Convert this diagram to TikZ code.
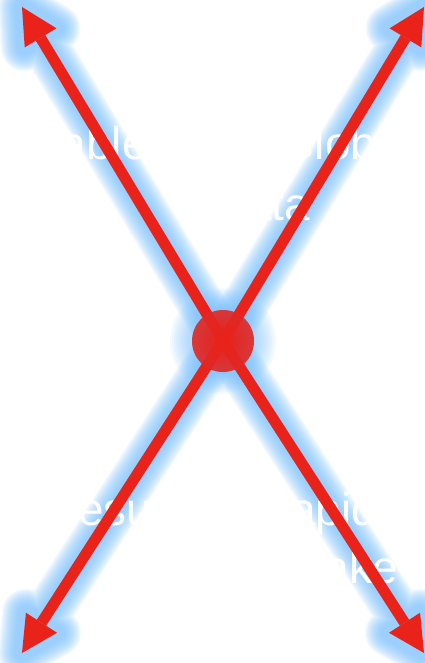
\documentclass[tikz,border=0pt]{standalone}
\usepackage{fontspec}
\setmainfont{Liberation Sans}
\usetikzlibrary{arrows.meta,calc,fadings}
\definecolor{SignalRed}{RGB}{233,35,26}
\definecolor{GlowBlue}{RGB}{120,190,252}
\definecolor{DeepGlow}{RGB}{70,140,240}
\tikzfading[name=dotfade,inner color=transparent!0,outer color=transparent!100]
\tikzset{
  glow/.style={draw=GlowBlue,line width=#1,line join=round,line cap=round,opacity=0.075},
  quadtext/.style={text=white,font=\fontsize{46}{58}\selectfont,anchor=base west,inner sep=0pt}
}

\begin{document}
\begin{tikzpicture}[x=1pt,y=-1pt]
  \useasboundingbox (0,0) rectangle (424,663);
  \coordinate (hub) at (223,341);
  \coordinate (tipNW) at (22,7);
  \coordinate (tipNE) at (424,7);
  \coordinate (tipSW) at (22,653);
  \coordinate (tipSE) at (424,653);
  % arrow heads
  \foreach \d in {NW,NE,SW,SE}{
    \coordinate (base\d) at ($(tip\d)!36pt!(hub)$);
    \coordinate (wingA\d) at ($(base\d)!18.5pt!90:(tip\d)$);
    \coordinate (wingB\d) at ($(base\d)!18.5pt!-90:(tip\d)$);
  }
  % soft blue halo
  \foreach \d in {NW,NE,SW,SE}{
    \foreach \w in {48,46,...,16}
      \draw[glow=\w] (hub) -- (base\d) (tip\d) -- (wingA\d) -- (wingB\d) -- cycle;
  }
  \foreach \w in {44,40,...,8}
    \draw[glow=\w] (hub) circle (31);
  % labels
  \node[quadtext] (stable) at (17,160) {Stable};
  \node[quadtext] (global) at (279,160) {Global};
  \node[quadtext] (data) at (213,220) {Data};
  \node[quadtext] (results) at (45,525) {Results};
  \node[quadtext] (rapid) at (257,525) {Rapid};
  \node[quadtext] (uptake) at (252,583) {Uptake};
  % the cross
  \foreach \d in {NW,NE,SW,SE}{
    \draw[SignalRed,line width=11pt] (hub) -- (base\d);
    \fill[SignalRed] (tip\d) -- (wingA\d) -- (wingB\d) -- cycle;
  }
  \fill[DeepGlow,opacity=0.35] (hub) circle (31);
  \fill[SignalRed,opacity=0.85] (hub) circle (31);
  \fill[SignalRed,path fading=dotfade] (hub) circle (31);
\end{tikzpicture}
\end{document}
